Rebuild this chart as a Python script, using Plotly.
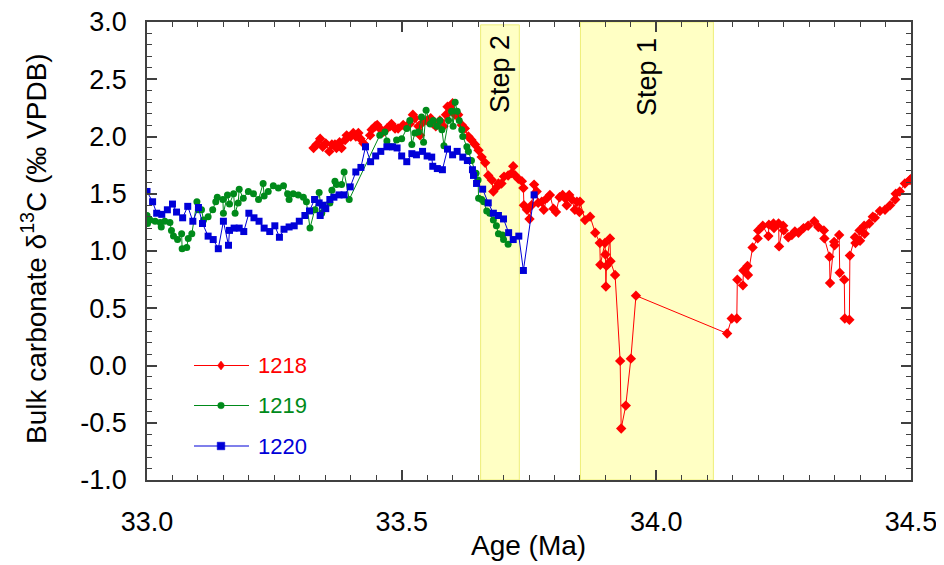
import plotly.graph_objects as go

# ---------------- data ----------------
age_1218 = [33.327, 33.333, 33.340, 33.345, 33.351, 33.358, 33.363, 33.369, 33.372, 33.378,
            33.382, 33.389, 33.392, 33.400, 33.405, 33.410, 33.415, 33.419, 33.425, 33.438,
            33.441, 33.448, 33.452, 33.457, 33.464, 33.471, 33.477, 33.480, 33.487, 33.493,
            33.503, 33.510, 33.516, 33.522, 33.526, 33.533, 33.536, 33.543, 33.550, 33.557,
            33.562, 33.567, 33.575, 33.582, 33.587, 33.590, 33.595, 33.600, 33.605, 33.611,
            33.618, 33.624, 33.631, 33.637, 33.644, 33.651, 33.657, 33.664, 33.670, 33.677,
            33.680, 33.687, 33.690, 33.696, 33.701, 33.709, 33.716, 33.719, 33.723, 33.729,
            33.736, 33.739, 33.740, 33.746, 33.751, 33.755, 33.760, 33.765, 33.768, 33.775,
            33.779, 33.785, 33.791, 33.798, 33.803, 33.810, 33.816, 33.821, 33.824, 33.829,
            33.834, 33.840, 33.844, 33.849, 33.850, 33.860, 33.870, 33.880, 33.889, 33.890,
            33.899, 33.900, 33.901, 33.902, 33.909, 33.910, 33.919, 33.929, 33.931, 33.940,
            33.950, 33.960, 34.139, 34.148, 34.158, 34.159, 34.170, 34.171, 34.179, 34.180,
            34.189, 34.199, 34.200, 34.209, 34.220, 34.221, 34.230, 34.231, 34.240, 34.241,
            34.249, 34.250, 34.259, 34.266, 34.272, 34.279, 34.289, 34.298, 34.310, 34.318,
            34.329, 34.330, 34.340, 34.341, 34.349, 34.350, 34.359, 34.360, 34.369, 34.370,
            34.379, 34.380, 34.390, 34.391, 34.399, 34.400, 34.408, 34.409, 34.418, 34.425,
            34.429, 34.439, 34.449, 34.459, 34.469, 34.470, 34.478, 34.488, 34.498, 34.500]
d13c_1218 = [1.90, 1.93, 1.98, 1.91, 1.94, 1.87, 1.93, 1.93, 1.90, 1.95,
             1.90, 1.97, 2.01, 2.00, 2.03, 2.00, 2.03, 1.98, 1.94, 2.01,
             2.06, 2.09, 2.10, 2.07, 2.04, 2.07, 2.09, 2.11, 2.07, 2.07,
             2.10, 2.09, 2.11, 2.19, 2.16, 2.09, 2.01, 2.13, 2.14, 2.16,
             2.11, 2.09, 2.14, 2.09, 2.19, 2.26, 2.25, 2.29, 2.19, 2.19,
             2.10, 2.07, 2.00, 1.97, 1.93, 1.88, 1.82, 1.77, 1.66, 1.62,
             1.52, 1.56, 1.59, 1.59, 1.65, 1.66, 1.68, 1.74, 1.66, 1.63,
             1.61, 1.55, 1.40, 1.36, 1.28, 1.40, 1.58, 1.52, 1.42, 1.43,
             1.36, 1.46, 1.49, 1.37, 1.34, 1.47, 1.49, 1.46, 1.40, 1.49,
             1.45, 1.36, 1.43, 1.34, 1.43, 1.27, 1.30, 1.16, 1.07, 0.88,
             1.07, 0.97, 0.69, 0.87, 1.11, 0.91, 0.79, 0.04, -0.55, -0.35,
             0.06, 0.61, 0.28, 0.41, 0.41, 0.75, 0.70, 0.83, 0.87, 0.79,
             1.03, 1.11, 1.18, 1.22, 1.13, 1.23, 1.24, 1.20, 1.24, 1.04,
             1.22, 1.18, 1.12, 1.14, 1.17, 1.16, 1.20, 1.22, 1.26, 1.21,
             1.18, 1.11, 0.95, 0.72, 1.08, 1.05, 1.14, 0.81, 0.75, 0.41,
             0.40, 0.96, 1.12, 1.07, 1.18, 1.09, 1.22, 1.15, 1.24, 1.30,
             1.29, 1.35, 1.36, 1.40, 1.45, 1.50, 1.52, 1.59, 1.62, 1.63]

age_1219 = [33.000, 33.001, 33.006, 33.016, 33.026, 33.028, 33.035, 33.045, 33.048, 33.052,
            33.060, 33.068, 33.069, 33.078, 33.081, 33.088, 33.098, 33.101, 33.107, 33.111,
            33.120, 33.129, 33.135, 33.138, 33.149, 33.150, 33.158, 33.162, 33.170, 33.173,
            33.179, 33.181, 33.189, 33.199, 33.209, 33.219, 33.228, 33.230, 33.238, 33.248,
            33.258, 33.268, 33.276, 33.279, 33.287, 33.297, 33.307, 33.313, 33.320, 33.330,
            33.338, 33.343, 33.349, 33.359, 33.363, 33.369, 33.372, 33.382, 33.387, 33.397,
            33.457, 33.467, 33.471, 33.480, 33.490, 33.500, 33.510, 33.516, 33.520, 33.526,
            33.533, 33.539, 33.543, 33.548, 33.556, 33.562, 33.569, 33.575, 33.579, 33.583,
            33.592, 33.598, 33.601, 33.605, 33.609, 33.613, 33.618, 33.620, 33.628, 33.631,
            33.637, 33.646, 33.650, 33.651, 33.657, 33.661, 33.667, 33.673, 33.680, 33.686,
            33.690, 33.698, 33.700, 33.709]
d13c_1219 = [1.31, 1.24, 1.27, 1.26, 1.25, 1.21, 1.26, 1.25, 1.18, 1.13,
             1.10, 1.15, 1.02, 1.03, 1.11, 1.15, 1.43, 1.36, 1.36, 1.27,
             1.30, 1.36, 1.43, 1.47, 1.45, 1.33, 1.49, 1.41, 1.50, 1.33,
             1.42, 1.54, 1.46, 1.52, 1.50, 1.45, 1.59, 1.48, 1.52, 1.57,
             1.55, 1.57, 1.50, 1.45, 1.50, 1.49, 1.47, 1.43, 1.20, 1.36,
             1.51, 1.33, 1.37, 1.42, 1.53, 1.61, 1.58, 1.58, 1.69, 1.45,
             2.01, 2.04, 1.96, 1.91, 1.97, 1.98, 2.07, 2.14, 1.93, 2.03,
             2.04, 2.17, 1.95, 2.23, 2.11, 2.14, 2.09, 2.14, 2.06, 1.92,
             2.14, 2.22, 2.09, 2.30, 2.22, 2.14, 2.06, 2.00, 1.91, 1.87,
             1.79, 1.68, 1.62, 1.46, 1.45, 1.43, 1.35, 1.33, 1.27, 1.22,
             1.15, 1.14, 1.10, 1.06]

age_1220 = [33.000, 33.011, 33.019, 33.029, 33.040, 33.050, 33.058, 33.070, 33.080, 33.090,
            33.101, 33.109, 33.120, 33.130, 33.140, 33.150, 33.160, 33.162, 33.171, 33.181,
            33.190, 33.200, 33.210, 33.220, 33.230, 33.241, 33.251, 33.260, 33.269, 33.279,
            33.289, 33.299, 33.310, 33.319, 33.329, 33.338, 33.340, 33.346, 33.351, 33.359,
            33.367, 33.377, 33.387, 33.399, 33.410, 33.420, 33.429, 33.439, 33.449, 33.459,
            33.471, 33.482, 33.491, 33.500, 33.510, 33.520, 33.529, 33.541, 33.550, 33.559,
            33.561, 33.570, 33.580, 33.590, 33.600, 33.609, 33.620, 33.629, 33.639, 33.641,
            33.647, 33.659, 33.670, 33.680, 33.690, 33.700, 33.710, 33.719, 33.730, 33.739,
            33.760]
d13c_1220 = [1.52, 1.43, 1.33, 1.32, 1.36, 1.41, 1.34, 1.29, 1.39, 1.26,
             1.38, 1.24, 1.13, 1.10, 1.02, 1.26, 1.05, 1.18, 1.20, 1.20,
             1.17, 1.33, 1.29, 1.26, 1.20, 1.17, 1.22, 1.12, 1.19, 1.21,
             1.22, 1.26, 1.31, 1.35, 1.45, 1.42, 1.31, 1.40, 1.37, 1.45,
             1.47, 1.49, 1.49, 1.56, 1.69, 1.73, 1.91, 1.78, 1.83, 1.87,
             1.91, 1.91, 1.90, 1.83, 1.78, 1.85, 1.84, 1.87, 1.83, 1.82,
             1.74, 1.72, 1.71, 1.89, 1.84, 1.87, 1.82, 1.79, 1.71, 1.66,
             1.59, 1.54, 1.42, 1.33, 1.31, 1.28, 1.16, 1.10, 1.13, 0.83,
             1.49]

site_names = ["1218", "1219", "1220"]
step_labels = ["Step 2", "Step 1"]
step_start = [33.655, 33.851]
step_end = [33.731, 34.112]
step_top = [2.975, 3.0]

x_ticks = [33.0, 33.5, 34.0, 34.5]
x_tick_text = ["33.0", "33.5", "34.0", "34.5"]
y_ticks = [-1.0, -0.5, 0.0, 0.5, 1.0, 1.5, 2.0, 2.5, 3.0]
y_tick_text = ["-1.0", "-0.5", "0.0", "0.5", "1.0", "1.5", "2.0", "2.5", "3.0"]

# ---------------- styling ----------------
FONT = "Liberation Sans, Arial, sans-serif"
RED, GREEN, BLUE = "#FF0000", "#008A1A", "#0000D8"
AXC = "#404040"

# page body has an 8px default margin -> shrink the figure so the plot sits where the reference has it
OFF = 8
SCR_W, SCR_H = 944, 565
PL, PR, PT, PB = 147, 911, 22, 480        # plot area in screen pixels
W, H = SCR_W - OFF, SCR_H - OFF
L, R, T, B = PL - OFF, SCR_W - PR, PT - OFF, SCR_H - PB
PW, PH = PR - PL, PB - PT


def px(xp):
    return (xp - PL) / PW


def py(yp):
    return (PB - yp) / PH


fig = go.Figure()

series = [
    (age_1218, d13c_1218, RED, "diamond", 8),
    (age_1219, d13c_1219, GREEN, "circle", 7),
    (age_1220, d13c_1220, BLUE, "square", 7),
]
for (xs, ys, col, sym, sz), nm in zip(series, site_names):
    fig.add_trace(go.Scatter(
        x=xs, y=ys, mode="lines+markers", name=nm, showlegend=False,
        line=dict(color=col, width=1),
        marker=dict(symbol=sym, size=sz, color=col, line=dict(width=0)),
        cliponaxis=True,
    ))

shapes = []
annotations = []
# shaded steps
for x0, x1, top in zip(step_start, step_end, step_top):
    shapes.append(dict(type="rect", xref="x", yref="y", x0=x0, x1=x1, y0=-1, y1=top,
                       fillcolor="#FFFFC4", line=dict(color="#EEEE78", width=1), layer="below"))
step_centers = [(500, 74), (647, 77)]
for lab, (cx, cy) in zip(step_labels, step_centers):
    annotations.append(dict(xref="paper", yref="paper", x=px(cx), y=py(cy), text=lab,
                            textangle=-90, showarrow=False, xanchor="center", yanchor="middle",
                            font=dict(family=FONT, size=27, color="black")))

# manual legend
leg_rows = [365.5, 405.5, 446]
for (xs, ys, col, sym, sz), nm, ly in zip(series, site_names, leg_rows):
    shapes.append(dict(type="line", xref="paper", yref="paper", x0=px(194), x1=px(249),
                       y0=py(ly), y1=py(ly), line=dict(color=col, width=1.2)))
    mx = 221
    if sym == "diamond":
        path = "M {} {} L {} {} L {} {} L {} {} Z".format(
            px(mx), py(ly - 4.5), px(mx + 3.5), py(ly), px(mx), py(ly + 4.5), px(mx - 3.5), py(ly))
        shapes.append(dict(type="path", xref="paper", yref="paper", path=path,
                           fillcolor=col, line=dict(color=col, width=0.5)))
    elif sym == "circle":
        shapes.append(dict(type="circle", xref="paper", yref="paper", x0=px(mx - 3.3), x1=px(mx + 3.3),
                           y0=py(ly + 3.3), y1=py(ly - 3.3), fillcolor=col, line=dict(color=col, width=0.5)))
    else:
        shapes.append(dict(type="rect", xref="paper", yref="paper", x0=px(mx - 3.8), x1=px(mx + 3.8),
                           y0=py(ly + 3.8), y1=py(ly - 3.8), fillcolor=col, line=dict(color=col, width=0.5)))
    annotations.append(dict(xref="paper", yref="paper", x=px(256), y=py(ly), text=nm,
                            showarrow=False, xanchor="left", yanchor="middle",
                            font=dict(family=FONT, size=22, color=col)))

# axis titles
annotations.append(dict(xref="paper", yref="paper", x=px(528), y=py(545), text="Age (Ma)",
                        showarrow=False, xanchor="center", yanchor="middle",
                        font=dict(family=FONT, size=28, color="black")))
annotations.append(dict(xref="paper", yref="paper", x=px(34), y=py(249),
                        text="Bulk carbonate δ<sup>13</sup>C (‰ VPDB)", textangle=-90,
                        showarrow=False, xanchor="center", yanchor="middle",
                        font=dict(family=FONT, size=28, color="black")))

axis_common = dict(
    showline=True, linecolor=AXC, linewidth=1.5, mirror="ticks",
    ticks="inside", ticklen=10, tickwidth=1.5, tickcolor=AXC,
    showgrid=False, zeroline=False, automargin=False, ticklabeloverflow="allow",
    tickfont=dict(family=FONT, size=27, color="black"),
)
fig.update_xaxes(range=[33.0, 34.5], tickmode="array", tickvals=x_ticks, ticktext=x_tick_text,
                 minor=dict(dtick=0.05, tick0=33.0, ticks="inside", ticklen=5, tickwidth=1.2,
                            tickcolor=AXC, showgrid=False),
                 ticklabelstandoff=17, **axis_common)
fig.update_yaxes(range=[-1.0, 3.0], tickmode="array", tickvals=y_ticks, ticktext=y_tick_text,
                 minor=dict(dtick=0.1, tick0=-1.0, ticks="inside", ticklen=5, tickwidth=1.2,
                            tickcolor=AXC, showgrid=False),
                 ticklabelstandoff=13, **axis_common)

fig.update_layout(
    width=W, height=H,
    margin=dict(l=L, r=R, t=T, b=B, pad=0, autoexpand=False),
    paper_bgcolor="white", plot_bgcolor="white",
    shapes=shapes, annotations=annotations,
    showlegend=False,
    font=dict(family=FONT, color="black"),
)

fig.write_html("out.html")
